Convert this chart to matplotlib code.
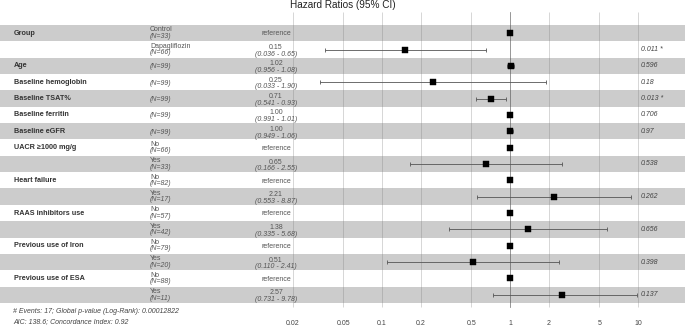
import numpy as np
import matplotlib as mpl
mpl.use("Agg")
import matplotlib.pyplot as plt
from matplotlib.transforms import blended_transform_factory

# one entry per table row, top to bottom
var_names = ["Group", "", "Age", "Baseline hemoglobin", "Baseline TSAT%",
             "Baseline ferritin", "Baseline eGFR", "UACR \u22651000 mg/g", "",
             "Heart failure", "", "RAAS inhibitors use", "",
             "Previous use of Iron", "", "Previous use of ESA", ""]
levels = ["Control", "Dapagliflozin", "", "", "", "", "", "No", "Yes",
          "No", "Yes", "No", "Yes", "No", "Yes", "No", "Yes"]
n_obs = [33, 66, 99, 99, 99, 99, 99, 66, 33, 82, 17, 57, 42, 79, 20, 88, 11]
nan = np.nan
hr = [nan, 0.15, 1.02, 0.25, 0.71, 1.00, 1.00, nan, 0.65, nan, 2.21,
      nan, 1.38, nan, 0.51, nan, 2.57]
ci_low = [nan, 0.036, 0.956, 0.033, 0.541, 0.991, 0.949, nan, 0.166, nan,
          0.553, nan, 0.335, nan, 0.110, nan, 0.731]
ci_high = [nan, 0.65, 1.08, 1.90, 0.93, 1.01, 1.06, nan, 2.55, nan, 8.87,
           nan, 5.68, nan, 2.41, nan, 9.78]
p_text = ["", "0.011 *", "0.596", "0.18", "0.013 *", "0.706", "0.97", "",
          "0.538", "", "0.262", "", "0.656", "", "0.398", "", "0.137"]
x_ticks = [0.02, 0.05, 0.1, 0.2, 0.5, 1, 2, 5, 10]
footer = ["# Events: 17; Global p-value (Log-Rank): 0.00012822",
          "AIC: 138.6; Concordance Index: 0.92"]

plt.rcParams["font.family"] = ["Liberation Sans", "DejaVu Sans"]

W, H = 685, 327
ROW_TOP, ROW_H = 25, 16.35
X_ONE, DECADE = 510, 128   # pixel of HR=1, pixels per decade


def py(p):
    # pixel row -> data y (row units)
    return (p - ROW_TOP) / ROW_H - 0.5


fig = plt.figure(figsize=(W / 100, H / 100), dpi=100)
ax = fig.add_axes([0, 0, 1, 1])
ax.set_xscale("log")
ax.set_xlim(10 ** (-X_ONE / DECADE), 10 ** ((W - X_ONE) / DECADE))
ax.set_ylim(py(H), py(0))
ax.axis("off")
tx = blended_transform_factory(fig.transFigure, ax.transData)

nrows = len(var_names)
rows = np.arange(nrows)

for i in rows:
    if i % 2 == 0:
        ax.axhspan(i - 0.5, i + 0.5, color="#cccccc", lw=0, zorder=0)

ax.vlines(x_ticks, py(12), py(307), color="#777777", alpha=0.35, lw=0.6, zorder=1)
ax.vlines(1, py(12), py(307), color="#444444", lw=0.6, ls=(0, (1.2, 1.2)), zorder=2)

hr_a = np.array(hr)
lo_a = np.array(ci_low)
hi_a = np.array(ci_high)
has_ci = ~np.isnan(hr_a)
ax.errorbar(hr_a[has_ci], rows[has_ci],
            xerr=[hr_a[has_ci] - lo_a[has_ci], hi_a[has_ci] - hr_a[has_ci]],
            fmt="none", ecolor="#555555", elinewidth=0.6, capsize=1.3,
            capthick=0.6, zorder=3)
ax.plot(np.where(has_ci, hr_a, 1.0), rows, "s", color="black", ms=4.6,
        mec="black", mew=0.3, zorder=4)

fs = 5.0
for i in rows:
    if var_names[i]:
        ax.text(14 / W, i, var_names[i], transform=tx, ha="left", va="center",
                fontsize=5.2, fontweight="bold", color="#333333")
    if levels[i]:
        ax.text(150 / W, i - 0.2, levels[i], transform=tx, ha="left",
                va="center", fontsize=fs, color="#555555")
        ax.text(150 / W, i + 0.2, f"(N={n_obs[i]})", transform=tx, ha="left",
                va="center", fontsize=fs, color="#555555", style="italic")
    else:
        ax.text(150 / W, i + 0.05, f"(N={n_obs[i]})", transform=tx, ha="left",
                va="center", fontsize=fs, color="#555555", style="italic")
    if np.isnan(hr[i]):
        ax.text(276 / W, i + 0.05, "reference", transform=tx, ha="center",
                va="center", fontsize=fs, color="#555555")
    else:
        ax.text(276 / W, i - 0.12, f"{hr[i]:.2f}", transform=tx, ha="center",
                va="center", fontsize=fs, color="#555555")
        ax.text(276 / W, i + 0.29, f"({ci_low[i]:.3f} - {ci_high[i]:.2f})",
                transform=tx, ha="center", va="center", fontsize=fs,
                color="#555555", style="italic")
    if p_text[i]:
        ax.text(641 / W, i, p_text[i], transform=tx, ha="left", va="center",
                fontsize=fs, color="#444444", style="italic")

for t in x_ticks:
    ax.text(t, py(324), f"{t:g}", ha="center", va="center", fontsize=5,
            color="#444444")

ax.text(0.5, py(5), "Hazard Ratios (95% CI)", transform=tx, ha="center",
        va="center", fontsize=7.2, color="#222222")

for k, line in enumerate(footer):
    ax.text(13 / W, py(312 + 10 * k), line, transform=tx, ha="left",
            va="center", fontsize=5, color="#444444", style="italic")

fig.savefig("out.png", dpi=100)
